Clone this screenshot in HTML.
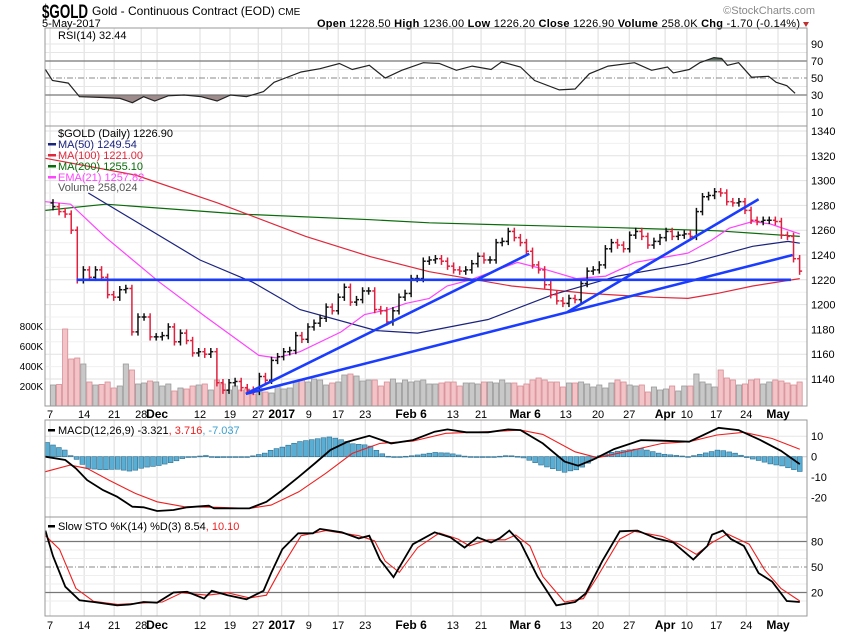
<!DOCTYPE html>
<html><head><meta charset="utf-8"><style>
html,body{margin:0;padding:0;background:#fff;}
svg{display:block;font-family:"Liberation Sans",sans-serif;}
</style></head><body>
<svg id="c" width="850" height="633" viewBox="0 0 850 633" xmlns="http://www.w3.org/2000/svg">
<text x="42" y="18" font-size="19" font-weight="bold" textLength="46" lengthAdjust="spacingAndGlyphs">$GOLD</text>
<text x="92" y="15" font-size="12">Gold - Continuous Contract (EOD) <tspan font-size="10">CME</tspan></text>
<text x="42" y="27" font-size="11">5-May-2017</text>
<text x="815" y="14" font-size="11" fill="#888" text-anchor="end">©StockCharts.com</text>
<text x="800" y="27" font-size="11" text-anchor="end" textLength="483"><tspan font-weight="bold">Open</tspan> 1228.50 <tspan font-weight="bold">High</tspan> 1236.00 <tspan font-weight="bold">Low</tspan> 1226.20 <tspan font-weight="bold">Close</tspan> 1226.90 <tspan font-weight="bold">Volume</tspan> 258.0K <tspan font-weight="bold">Chg</tspan> -1.70 (-0.14%)</text>
<path d="M803 22 L809 22 L806 27 Z" fill="#c03030"/>
<g id="g"></g>
</svg>
<script>
// ---------- data ----------
const closes=[1279,1275,1273,1260,1220,1228,1222,1228,1222,1208,1206,1212,1213,1178,1190,1190,1174,1174,1175,1182,1170,1177,1171,1161,1162,1160,1162,1137,1131,1137,1138,1133,1131,1130,1142,1139,1155,1158,1162,1163,1175,1172,1182,1185,1189,1198,1195,1206,1214,1202,1204,1211,1211,1196,1195,1186,1195,1206,1209,1221,1221,1235,
1236,1237,1235,1231,1228,1227,1228,1233,1239,1236,1236,1250,1251,1259,1254,1250,1243,1232,1228,1216,1208,1203,1201,1205,1204,1217,1227,1228,1232,1245,1250,1248,1245,1256,1259,1255,1248,1251,1254,1259,1255,1256,1257,1255,1275,1287,1288,1291,1290,1283,1282,1283,1276,1268,1267,1268,1268,1267,1256,1255,1237,1227];
const volumes=[210,215,770,470,480,420,240,210,215,240,180,200,420,360,220,230,250,240,200,220,150,180,170,200,210,220,160,260,220,160,200,160,170,120,180,140,130,200,170,180,250,260,240,270,260,210,230,240,310,320,300,250,260,260,200,240,270,230,260,240,250,260,
220,220,230,240,240,200,230,230,220,240,240,230,260,230,230,200,220,260,280,260,240,240,190,230,230,240,220,190,210,180,230,260,240,210,200,210,140,190,160,170,200,150,200,200,320,240,220,190,360,280,260,210,220,260,270,220,240,260,250,230,210,240];
const ma50T=[6,25,34,42,55,62,74,85,96,108,119,125,127];
const ma50V=[1290,1236,1218,1196,1179,1177,1188,1208,1223,1233,1247,1251,1249.5];
const ma100T=[-1.3,14,28,43,54,64,78,91,102,108,113,119,127];
const ma100V=[1318,1304.5,1282,1255,1238.6,1226.5,1215,1209,1206,1205,1209,1215,1221];
const ma200T=[-1.3,9,32,54,64,79,96,113,127];
const ma200V=[1276,1281,1273,1268.5,1266,1264,1262,1259.5,1255];
const emaT=[-1.3,3,9,18,26,35,38,42,49,53,57,60,64,67,71,79,84,89,94,99,108,112,115,119,122,127];
const emaV=[1283,1281,1254,1218.5,1190,1159,1157,1162,1178,1192,1196,1201,1205,1215,1220,1234,1228,1221,1223,1234,1241.5,1252,1261.6,1267,1265,1257];
const rsiT=[-1.3,-0.1,2.6,4.5,8.5,11.4,13.5,15.4,17.3,19.6,22.3,25.2,27.9,30.2,32.9,35.8,37.6,39.5,42.2,45.4,48.7,50.9,53.8,56.5,59.3,63,65.7,68.6,71.3,74.5,76.3,79.5,81.9,86.1,88.8,91.2,94.4,98.9,101.8,104.5,105.5,108.2,110,112.4,113.7,114.7,116.6,118.8,121.7,123,124.8,126.2];
const rsiV=[60,47,44,28,27,26,21,28,23,29,30,28,23,30,28,34,45,50,57,61,67,60,65,50,59,68,67,59,64,60,69,63,47,36,37,55,64,68,59,63,56,60,68,74,73,65,68,51,52,45,41,32];
const macdT=[-1.3,2.1,3.9,5.8,8.5,10.9,13.5,15.4,17.7,20.5,22.8,26.5,27.4,30.7,33.4,36.3,39,41.8,44.5,47.2,50.1,53.8,57.5,61.2,64.9,67.1,70.3,74,77.4,79.5,83.3,87,89.3,91.7,95.4,100,103.6,108.2,113.2,116.6,120.3,123.8,127];
const macdV=[0,-1.6,-5.7,-11.4,-16.3,-19.5,-24.4,-24.7,-26.5,-26,-24.7,-23.9,-25.2,-25.2,-25.2,-22,-16.3,-9.8,-3.3,3.3,7.3,10.2,6.5,8.1,12.2,13.3,11.9,11.9,13.3,13,6.5,-2.4,-4.4,-1.6,3.7,8.1,7.8,7.3,14.1,13,8.1,2.9,-3.6];
const sigT=[-1.3,2.9,5.8,9.5,14,17.7,22.3,27.9,33.4,37.1,41.8,46.4,50.9,55.6,61.2,66.8,74,79.5,83.3,88.8,92.6,98.1,103.6,108.2,112.9,117.5,122.3,127];
const sigV=[-7.3,-4.1,-5.7,-11.4,-17.9,-22,-24.4,-24.7,-25.2,-23.6,-17.1,-8.1,1.6,6.5,7.6,11.4,12.2,13,10.9,2.4,-0.5,2.9,6.5,7.3,10.6,11.9,8.9,3.6];
const kT=[-1.3,0,2.1,4.5,6.9,10.9,13.2,15.4,17.7,20.5,22.8,25.7,27,29.7,32.9,35.8,37.1,39,41.7,44.2,45.4,49.1,52,53.8,55.6,57.9,61.2,64.9,67.6,70,72.2,74.5,76,77.6,79.5,82.4,85.6,88.8,90.6,93.4,96.4,99.4,102.6,105.5,108.9,111.3,112.1,113.9,115.3,117.5,120,122.3,124.8,127];
const kV=[92.8,62.8,26.8,10.8,8.8,4.8,6,8.8,8,20,20.8,12.8,22,16.8,12,22,42.8,70.8,89.6,89.6,94.8,90.8,83.6,86.8,58.8,38,76.8,90.8,84.8,72.8,84.8,78.8,84,92.8,78.8,38.8,4.8,8.8,18.8,56.8,92,92.8,83.6,78.8,58.8,74.8,88,92.8,82.8,74.8,42.8,32.8,10,8.8];
const dT=[-1.3,1.1,3.9,6.9,11,15.4,18.6,21.9,26.3,29.7,33.4,36.3,39,42.2,46.4,52,54.7,56.5,58.9,62,65.7,68.9,70.8,74,76.9,78.7,81.1,83.3,87,90.2,92.6,96.4,98.9,103.6,106.5,109.4,112.1,114.7,118.4,121,123.8,127];
const dV=[86.8,70.8,24.8,9.6,6,7.6,8.8,19.6,16.8,19.6,13.6,16.8,50.8,86.8,92.8,86.8,80.8,56.8,43.6,72.8,90,82.8,74.8,82,82,87.6,74.8,38.8,8.8,12.8,38.8,82.8,92,86,76.8,64.8,78.8,88.8,76.8,46.8,24.8,10];
const dateT=[-0.5,5.3,10.4,15,17.7,25,30.1,34.9,38.9,43.5,48.5,53.1,60.9,68,72.8,80.3,87.2,92.7,98,104.1,107.8,112.8,117.9,123.3];
const dateL=["7","14","21","28","Dec","12","19","27","2017","9","17","23","Feb 6","13","21","Mar 6","13","20","27","Apr","10","17","24","May"];
const dateBold=[0,0,0,0,1,0,0,0,1,0,0,0,1,0,0,1,0,0,0,1,0,0,0,1];
const priceTicks=[1340,1320,1300,1280,1260,1240,1220,1200,1180,1160,1140];
const volTicks=[800,600,400,200];
const rsiTicks=[90,70,50,30,10];
const macdTicks=[10,0,-10,-20];
const stoTicks=[80,50,20];
// trendlines: [barIndex1, price1, barIndex2, price2]
const trendlines=[[4,1220,125.5,1220],[32.8,1128,81,1241],[32.8,1128,125.8,1240],[87.5,1194,120,1285]];

// ---------- axes ----------
const L=45,R=807;
const xBar=i=>53+i*6.07;
const xIdx=t=>53+t*5.88;
const yP=p=>379-(p-1140)*1.24;
const yVol=v=>406-v*0.1;
const yRsi=v=>78-(v-50)*0.85;
const yMacd=v=>456.7-v*2.05;
const ySto=v=>567-(v-50)*0.85;
const NS="http://www.w3.org/2000/svg";
const G=document.getElementById('g');
function mk(tag,attrs,parent){const e=document.createElementNS(NS,tag);for(const k in attrs)e.setAttribute(k,attrs[k]);(parent||G).appendChild(e);return e;}
function interp(T,V,t){if(t<=T[0])return V[0];for(let i=1;i<T.length;i++){if(t<=T[i]){const f=(t-T[i-1])/(T[i]-T[i-1]);return V[i-1]+f*(V[i]-V[i-1]);}}return V[V.length-1];}
function pts(T,V,yf){return T.map((t,i)=>xIdx(t).toFixed(1)+","+yf(V[i]).toFixed(1)).join(" ");}

const panels=[{n:'rsi',t:28,b:126},{n:'price',t:126,b:406},{n:'macd',t:420,b:517},{n:'sto',t:517,b:616}];
panels.forEach(p=>{
  const gg=mk('g',{});
  
  
  dateT.forEach(t=>{mk('line',{x1:xIdx(t),x2:xIdx(t),y1:p.t,y2:p.b,stroke:'#dcdcdc','stroke-width':1},gg);});
});
const pg=mk('g',{});


for(let p=1140;p<=1340;p+=10){mk('line',{x1:L,x2:R,y1:yP(p),y2:yP(p),stroke:p%20?'#f0f0f0':'#e2e2e2'},pg);}
[10,20,40,60,80,90].forEach(v=>mk('line',{x1:L,x2:R,y1:yRsi(v),y2:yRsi(v),stroke:'#e6e6e6'},pg));
[10,-10,-20].forEach(v=>mk('line',{x1:L,x2:R,y1:yMacd(v),y2:yMacd(v),stroke:'#e6e6e6'},pg));
[10,30,40,60,70,90].forEach(v=>mk('line',{x1:L,x2:R,y1:ySto(v),y2:ySto(v),stroke:'#eeeeee'},pg));

// ---------- RSI ----------
mk('clipPath',{id:'below30'}).appendChild(mk('rect',{x:L,y:yRsi(30),width:R-L,height:40}));
mk('clipPath',{id:'above70'}).appendChild(mk('rect',{x:L,y:20,width:R-L,height:yRsi(70)-20}));
const rp=pts(rsiT,rsiV,yRsi);
const x0=xIdx(rsiT[0]),x1=xIdx(rsiT[rsiT.length-1]);
const f30=mk('polygon',{points:x0+","+yRsi(30)+" "+rp+" "+x1+","+yRsi(30),fill:'#9d8a8a','clip-path':'url(#below30)'});


const f70=mk('polygon',{points:x0+","+yRsi(70)+" "+rp+" "+x1+","+yRsi(70),fill:'#607565','clip-path':'url(#above70)'});


mk('line',{x1:L,x2:R,y1:yRsi(70),y2:yRsi(70),stroke:'#777','stroke-width':1.3});
mk('line',{x1:L,x2:R,y1:yRsi(30),y2:yRsi(30),stroke:'#777','stroke-width':1.3});
mk('line',{x1:L,x2:R,y1:yRsi(50),y2:yRsi(50),stroke:'#888','stroke-dasharray':'6,2,1,2'});
const rl=mk('polyline',{points:rp,fill:'none',stroke:'#222','stroke-width':1.2});



// ---------- volume ----------
closes.forEach((c,i)=>{
  const up=i===0||c>=closes[i-1];
  const v=volumes[i]||200;
  const b=mk('rect',{x:xBar(i)-2.6,y:yVol(v),width:5.2,height:406-yVol(v),fill:up?'#c8c8c8':'#f2c4c8',stroke:up?'#9a9a9a':'#d88d95','stroke-width':0.8});
  
  
});
// ---------- MAs ----------
[[ma200T,ma200V,'#0a6b0a','ma200-line'],[ma100T,ma100V,'#e0283c','ma100-line'],[ma50T,ma50V,'#1a237e','ma50-line'],[emaT,emaV,'#ff44ff','ema21-line']].forEach(s=>{
  const l=mk('polyline',{points:pts(s[0],s[1],yP),fill:'none',stroke:s[2],'stroke-width':1.2});
  
  
});
// ---------- price bars ----------
closes.forEach((c,i)=>{
  const o=i===0?c+3:closes[i-1];
  const up=i===0||c>=closes[i-1];
  const hi=Math.max(o,c)+3,lo=Math.min(o,c)-3;
  const x=xBar(i),col=up?'#111':'#e0203f';
  const g=mk('g',{stroke:col,'stroke-width':1.5});
  
  
  mk('line',{x1:x,x2:x,y1:yP(hi),y2:yP(lo)},g);
  mk('line',{x1:x-2.5,x2:x,y1:yP(o),y2:yP(o)},g);
  mk('line',{x1:x,x2:x+2.5,y1:yP(c),y2:yP(c)},g);
});
// ---------- trendlines ----------
trendlines.forEach(t=>{
  const l=mk('line',{x1:xIdx(t[0]),y1:yP(t[1]),x2:xIdx(t[2]),y2:yP(t[3]),stroke:'#1a3cff','stroke-width':2.6});
  
  
});

// ---------- MACD ----------
mk('line',{x1:L,x2:R,y1:yMacd(0),y2:yMacd(0),stroke:'#ccc'});
for(let k=-1;k<=127;k++){
  const h=interp(macdT,macdV,k)-interp(sigT,sigV,k);
  const y0=yMacd(0),y1=yMacd(h);
  const b=mk('rect',{x:xIdx(k)-2.4,y:Math.min(y0,y1),width:4.8,height:Math.max(0.8,Math.abs(y1-y0)),fill:'#5aaed4',stroke:'#2a6f92','stroke-width':0.6});
  
  
}
const sl=mk('polyline',{points:pts(sigT,sigV,yMacd),fill:'none',stroke:'#ee2020','stroke-width':1.1});


const ml=mk('polyline',{points:pts(macdT,macdV,yMacd),fill:'none',stroke:'#000','stroke-width':1.8});



// ---------- STO ----------
mk('line',{x1:L,x2:R,y1:ySto(80),y2:ySto(80),stroke:'#777','stroke-width':1.3});
mk('line',{x1:L,x2:R,y1:ySto(20),y2:ySto(20),stroke:'#777','stroke-width':1.3});
mk('line',{x1:L,x2:R,y1:ySto(50),y2:ySto(50),stroke:'#888','stroke-dasharray':'6,2,1,2'});
const dl=mk('polyline',{points:pts(dT,dV,ySto),fill:'none',stroke:'#ee2020','stroke-width':1.1});


const kl=mk('polyline',{points:pts(kT,kV,ySto),fill:'none',stroke:'#000','stroke-width':1.8});



// ---------- panel borders & axes ----------
panels.forEach(p=>{
  const r=mk('rect',{x:L,y:p.t,width:R-L,height:p.b-p.t,fill:'none',stroke:'#999'});
  
  
});
function lbl(x,y,s,attrs){const t=mk('text',Object.assign({x:x,y:y,'font-size':11},attrs||{}));t.textContent=s;return t;}
priceTicks.forEach(p=>{const t=lbl(811,yP(p)+4,p);});
volTicks.forEach(v=>{const t=lbl(43,yVol(v)+4,v+"K",{'text-anchor':'end','font-size':10});});
rsiTicks.forEach(v=>{const t=lbl(811,yRsi(v)+4,v);});
macdTicks.forEach(v=>{const t=lbl(811,yMacd(v)+4,v);});
stoTicks.forEach(v=>{const t=lbl(811,ySto(v)+4,v);});
[418,629].forEach(yy=>{
  dateT.forEach((t,i)=>{
    const e=lbl(xIdx(t),yy,dateL[i],{'text-anchor':'middle','font-size':dateBold[i]?12:11,'font-weight':dateBold[i]?'bold':'normal'});
    
    
  });
});

// ---------- legends ----------
const legends=[
 [39,"RSI(14) 32.44",'#000',null],
 [137,"$GOLD (Daily) 1226.90",'#000',null],
 [148,"MA(50) 1249.54",'#1a237e','#1a237e'],
 [159,"MA(100) 1221.00",'#e0283c','#e0283c'],
 [170,"MA(200) 1255.10",'#0a6b0a','#0a6b0a'],
 [181,"EMA(21) 1257.82",'#ff44ff','#ff44ff'],
 [191,"Volume 258,024",'#555',null]];
legends.forEach(l=>{
  if(l[3])mk('rect',{x:48,y:l[0]-5,width:8,height:2.5,fill:l[3]});
  const t=lbl(58,l[0],l[1],{fill:l[2]});
  
  
});
const m=lbl(58,434,"",{});


m.innerHTML='MACD(12,26,9) -3.321<tspan fill="#ee2020">, 3.716</tspan><tspan fill="#3aa0d0">, -7.037</tspan>';
mk('rect',{x:48,y:429,width:7,height:2.5,fill:'#000'});
const s=lbl(58,530,"",{});


s.innerHTML='Slow STO %K(14) %D(3) 8.54<tspan fill="#ee2020">, 10.10</tspan>';
mk('rect',{x:48,y:525,width:7,height:2.5,fill:'#000'});
</script>
</body></html>
